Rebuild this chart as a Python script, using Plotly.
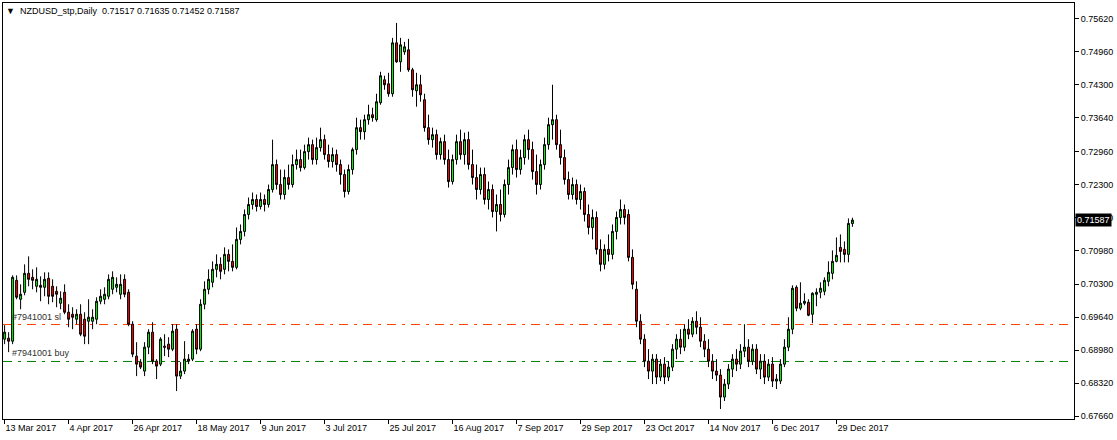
import plotly.graph_objects as go

open_ = [
 0.6920,0.6922,0.6916,0.7038,0.7000,0.7014,0.7052,0.7044,0.7026,0.7028,
 0.7024,0.7042,0.7026,0.7016,0.6992,0.7014,0.6974,0.6970,0.6960,0.6970,
 0.6960,0.6956,0.6956,0.6960,0.6996,0.7000,0.7006,0.7020,0.7024,0.7010,
 0.7040,0.7014,0.6950,0.6886,0.6874,0.6856,0.6904,0.6934,0.6876,0.6870,
 0.6906,0.6910,0.6900,0.6940,0.6846,0.6856,0.6880,0.6880,0.6940,0.6900,
 0.6990,0.7020,0.7034,0.7060,0.7070,0.7060,0.7090,0.7076,0.7064,0.7120,
 0.7136,0.7170,0.7190,0.7200,0.7186,0.7200,0.7190,0.7220,0.7270,0.7230,
 0.7210,0.7244,0.7230,0.7270,0.7280,0.7264,0.7296,0.7310,0.7280,0.7304,
 0.7320,0.7290,0.7276,0.7290,0.7270,0.7250,0.7216,0.7260,0.7300,0.7344,
 0.7336,0.7360,0.7370,0.7360,0.7394,0.7440,0.7432,0.7412,0.7514,0.7476,
 0.7496,0.7500,0.7460,0.7418,0.7430,0.7400,0.7344,0.7320,0.7330,0.7290,
 0.7316,0.7280,0.7236,0.7280,0.7316,0.7290,0.7320,0.7270,0.7244,0.7220,
 0.7250,0.7200,0.7220,0.7176,0.7190,0.7170,0.7230,0.7264,0.7300,0.7260,
 0.7284,0.7320,0.7300,0.7256,0.7230,0.7270,0.7310,0.7350,0.7360,0.7310,
 0.7284,0.7240,0.7210,0.7230,0.7200,0.7216,0.7170,0.7144,0.7164,0.7100,
 0.7070,0.7100,0.7090,0.7136,0.7164,0.7180,0.7170,0.7084,0.7020,0.6956,
 0.6920,0.6876,0.6856,0.6880,0.6844,0.6870,0.6844,0.6864,0.6900,0.6920,
 0.6904,0.6940,0.6930,0.6956,0.6944,0.6916,0.6900,0.6876,0.6856,0.6848,
 0.6804,0.6830,0.6860,0.6880,0.6870,0.6896,0.6904,0.6876,0.6900,0.6860,
 0.6876,0.6844,0.6870,0.6836,0.6836,0.6870,0.6904,0.6940,0.7024,0.6982,
 0.6992,0.6994,0.6970,0.7010,0.7014,0.7016,0.7036,0.7052,0.7076,0.7104,
 0.7100,0.7090,0.71517,
]
high = [
 0.6948,0.6934,0.7048,0.7048,0.7030,0.7070,0.7086,0.7060,0.7064,0.7046,
 0.7054,0.7054,0.7040,0.7026,0.7016,0.7030,0.6990,0.6984,0.6980,0.6990,
 0.6974,0.7000,0.6980,0.7004,0.7020,0.7024,0.7050,0.7056,0.7044,0.7050,
 0.7050,0.7020,0.6956,0.6914,0.6880,0.6914,0.6940,0.6954,0.6880,0.6924,
 0.6930,0.6924,0.6950,0.6950,0.6874,0.6916,0.6890,0.6940,0.6950,0.7000,
 0.7036,0.7060,0.7076,0.7090,0.7084,0.7104,0.7100,0.7110,0.7144,0.7150,
 0.7180,0.7204,0.7214,0.7210,0.7214,0.7210,0.7230,0.7320,0.7280,0.7260,
 0.7260,0.7270,0.7290,0.7300,0.7300,0.7310,0.7324,0.7320,0.7324,0.7344,
 0.7330,0.7310,0.7304,0.7300,0.7280,0.7260,0.7270,0.7304,0.7364,0.7360,
 0.7370,0.7390,0.7384,0.7412,0.7456,0.7448,0.7454,0.7524,0.7554,0.7524,
 0.7516,0.7522,0.7464,0.7454,0.7450,0.7412,0.7370,0.7344,0.7340,0.7324,
 0.7330,0.7300,0.7290,0.7330,0.7340,0.7334,0.7336,0.7300,0.7270,0.7264,
 0.7264,0.7236,0.7230,0.7210,0.7220,0.7240,0.7280,0.7310,0.7320,0.7300,
 0.7330,0.7340,0.7316,0.7290,0.7280,0.7324,0.7364,0.7430,0.7370,0.7340,
 0.7300,0.7256,0.7244,0.7240,0.7230,0.7224,0.7190,0.7180,0.7176,0.7120,
 0.7110,0.7130,0.7150,0.7176,0.7200,0.7190,0.7180,0.7100,0.7036,0.6970,
 0.6930,0.6900,0.6890,0.6890,0.6880,0.6884,0.6876,0.6910,0.6930,0.6940,
 0.6950,0.6960,0.6964,0.6976,0.6964,0.6930,0.6920,0.6890,0.6880,0.6860,
 0.6840,0.6870,0.6890,0.6900,0.6910,0.6950,0.6920,0.6910,0.6910,0.6890,
 0.6890,0.6880,0.6884,0.6850,0.6880,0.6920,0.6964,0.7028,0.7028,0.7034,
 0.7012,0.7000,0.7014,0.7022,0.7034,0.7044,0.7076,0.7098,0.7124,0.7130,
 0.7116,0.7162,0.71635,
]
low = [
 0.6910,0.6894,0.6910,0.7000,0.6980,0.7008,0.7026,0.7020,0.7014,0.6996,
 0.7006,0.6990,0.6994,0.6984,0.6980,0.6970,0.6944,0.6940,0.6950,0.6926,
 0.6910,0.6910,0.6940,0.6950,0.6990,0.6990,0.7000,0.7010,0.7014,0.7000,
 0.7004,0.6946,0.6884,0.6846,0.6860,0.6846,0.6890,0.6870,0.6840,0.6866,
 0.6886,0.6884,0.6896,0.6816,0.6840,0.6850,0.6870,0.6876,0.6890,0.6896,
 0.6980,0.7010,0.7024,0.7044,0.7040,0.7050,0.7056,0.7056,0.7060,0.7110,
 0.7126,0.7160,0.7180,0.7176,0.7180,0.7176,0.7184,0.7214,0.7220,0.7200,
 0.7200,0.7220,0.7224,0.7260,0.7256,0.7260,0.7280,0.7270,0.7270,0.7296,
 0.7280,0.7264,0.7264,0.7256,0.7230,0.7204,0.7210,0.7250,0.7290,0.7320,
 0.7320,0.7350,0.7356,0.7356,0.7390,0.7420,0.7406,0.7406,0.7474,0.7456,
 0.7490,0.7456,0.7406,0.7386,0.7396,0.7336,0.7310,0.7304,0.7280,0.7280,
 0.7270,0.7224,0.7230,0.7270,0.7280,0.7270,0.7260,0.7230,0.7200,0.7210,
 0.7190,0.7180,0.7164,0.7136,0.7156,0.7164,0.7210,0.7250,0.7244,0.7250,
 0.7270,0.7280,0.7240,0.7210,0.7220,0.7260,0.7300,0.7320,0.7300,0.7270,
 0.7230,0.7200,0.7200,0.7190,0.7180,0.7156,0.7130,0.7120,0.7090,0.7056,
 0.7060,0.7076,0.7080,0.7120,0.7150,0.7150,0.7076,0.7020,0.6944,0.6910,
 0.6864,0.6840,0.6830,0.6830,0.6836,0.6830,0.6836,0.6856,0.6880,0.6890,
 0.6896,0.6920,0.6924,0.6930,0.6904,0.6884,0.6864,0.6840,0.6836,0.6780,
 0.6796,0.6820,0.6844,0.6856,0.6860,0.6884,0.6864,0.6868,0.6850,0.6840,
 0.6830,0.6836,0.6824,0.6820,0.6830,0.6864,0.6896,0.6930,0.6976,0.6978,
 0.6988,0.6966,0.6952,0.6986,0.7002,0.7008,0.7026,0.7040,0.7074,0.7074,
 0.7074,0.7074,0.71452,
]
close = [
 0.6934,0.6916,0.7044,0.7004,0.7010,0.7052,0.7040,0.7038,0.7040,0.7024,
 0.7040,0.7006,0.7006,0.7010,0.7002,0.6974,0.6960,0.6964,0.6970,0.6930,
 0.6926,0.6964,0.6964,0.6996,0.7006,0.7010,0.7040,0.7044,0.7030,0.7030,
 0.7010,0.6950,0.6890,0.6870,0.6864,0.6904,0.6934,0.6876,0.6866,0.6920,
 0.6904,0.6900,0.6936,0.6846,0.6856,0.6880,0.6876,0.6936,0.6900,0.6990,
 0.7020,0.7040,0.7060,0.7070,0.7056,0.7090,0.7076,0.7064,0.7120,0.7136,
 0.7170,0.7190,0.7200,0.7186,0.7200,0.7190,0.7220,0.7270,0.7230,0.7210,
 0.7244,0.7230,0.7270,0.7280,0.7264,0.7296,0.7310,0.7280,0.7304,0.7320,
 0.7290,0.7276,0.7290,0.7270,0.7250,0.7216,0.7260,0.7300,0.7344,0.7336,
 0.7360,0.7370,0.7364,0.7396,0.7448,0.7430,0.7412,0.7514,0.7476,0.7510,
 0.7506,0.7460,0.7420,0.7430,0.7410,0.7344,0.7320,0.7330,0.7290,0.7316,
 0.7280,0.7236,0.7280,0.7316,0.7290,0.7320,0.7270,0.7244,0.7220,0.7250,
 0.7200,0.7220,0.7176,0.7190,0.7170,0.7230,0.7264,0.7300,0.7260,0.7284,
 0.7320,0.7300,0.7256,0.7230,0.7270,0.7310,0.7350,0.7360,0.7310,0.7284,
 0.7240,0.7210,0.7230,0.7200,0.7216,0.7170,0.7144,0.7164,0.7100,0.7070,
 0.7100,0.7090,0.7136,0.7164,0.7180,0.7164,0.7084,0.7030,0.6956,0.6920,
 0.6876,0.6856,0.6880,0.6844,0.6870,0.6844,0.6864,0.6900,0.6920,0.6904,
 0.6940,0.6930,0.6956,0.6944,0.6916,0.6900,0.6876,0.6856,0.6848,0.6804,
 0.6830,0.6860,0.6880,0.6870,0.6896,0.6904,0.6876,0.6900,0.6860,0.6876,
 0.6844,0.6870,0.6836,0.6840,0.6870,0.6904,0.6940,0.7022,0.6982,0.6992,
 0.6996,0.6968,0.7012,0.7014,0.7022,0.7038,0.7054,0.7076,0.7088,0.7096,
 0.7090,0.7152,0.71587,
]

bars = list(range(len(close)))

tick_pos = [0, 16, 32, 48, 64, 80, 96, 112, 128, 144, 160, 176, 192, 208]
tick_text = ["13 Mar 2017", "4 Apr 2017", "26 Apr 2017", "18 May 2017", "9 Jun 2017",
             "3 Jul 2017", "25 Jul 2017", "16 Aug 2017", "7 Sep 2017", "29 Sep 2017",
             "23 Oct 2017", "14 Nov 2017", "6 Dec 2017", "29 Dec 2017"]

price_ticks = [0.75620, 0.74960, 0.74300, 0.73640, 0.72960, 0.72300, 0.71640,
               0.70980, 0.70300, 0.69640, 0.68980, 0.68320, 0.67660]

sl_level = 0.69494
buy_level = 0.68753
last_price = 0.71587

FONT = "Liberation Sans"

fig = go.Figure()
fig.add_trace(go.Candlestick(
    x=bars, open=open_, high=high, low=low, close=close,
    increasing=dict(fillcolor="#00ff00", line=dict(color="#000000", width=1)),
    decreasing=dict(fillcolor="#ff0000", line=dict(color="#000000", width=1)),
    whiskerwidth=0, showlegend=False, hoverinfo="skip",
))

dash = "9px,6px,3px,6px"
fig.add_shape(type="line", xref="paper", x0=0, x1=1, yref="y", y0=sl_level, y1=sl_level,
              line=dict(color="#ff4500", width=1, dash=dash), layer="below")
fig.add_shape(type="line", xref="paper", x0=0, x1=1, yref="y", y0=buy_level, y1=buy_level,
              line=dict(color="#008000", width=1, dash=dash), layer="below")

fig.add_annotation(x=1.3, y=sl_level, xref="x", yref="y", text="#7941001 sl",
                   showarrow=False, xanchor="left", yanchor="bottom", yshift=1,
                   font=dict(family=FONT, size=9, color="#303030"))
fig.add_annotation(x=1.3, y=buy_level, xref="x", yref="y", text="#7941001 buy",
                   showarrow=False, xanchor="left", yanchor="bottom", yshift=1,
                   font=dict(family=FONT, size=9, color="#303030"))

fig.add_annotation(x=0, y=1, xref="paper", yref="paper", xshift=1, yshift=-1,
                   text="▼  NZDUSD_stp,Daily  0.71517 0.71635 0.71452 0.71587",
                   showarrow=False, xanchor="left", yanchor="top",
                   font=dict(family=FONT, size=9, color="#000000"))

fig.add_annotation(x=1, y=last_price, xref="paper", yref="y", xshift=1,
                   text="0.71587", showarrow=False, xanchor="left", yanchor="middle",
                   bgcolor="#000000", borderpad=1,
                   font=dict(family=FONT, size=9, color="#ffffff"))

fig.update_layout(
    width=1117, height=440,
    margin=dict(l=3, r=43, t=3, b=21),
    paper_bgcolor="#ffffff", plot_bgcolor="#ffffff",
    showlegend=False,
    xaxis=dict(
        range=[-0.4, 267.4], rangeslider=dict(visible=False),
        tickmode="array", tickvals=tick_pos, ticktext=tick_text,
        ticks="outside", ticklen=4, tickcolor="#000000",
        ticklabelposition="outside right",
        showline=True, linecolor="#000000", linewidth=1, mirror=True,
        showgrid=False, zeroline=False,
        tickfont=dict(family=FONT, size=9, color="#000000"),
    ),
    yaxis=dict(
        side="right", range=[0.67600, 0.75939],
        tickmode="array", tickvals=price_ticks,
        ticktext=[f"{v:.5f}" for v in price_ticks],
        ticks="outside", ticklen=4, tickcolor="#000000",
        showline=True, linecolor="#000000", linewidth=1, mirror=True,
        showgrid=False, zeroline=False,
        tickfont=dict(family=FONT, size=9, color="#000000"),
    ),
)

fig.write_html("out.html", config={"displayModeBar": False},
               post_script="document.body.style.margin='0';document.body.style.overflow='hidden';")
